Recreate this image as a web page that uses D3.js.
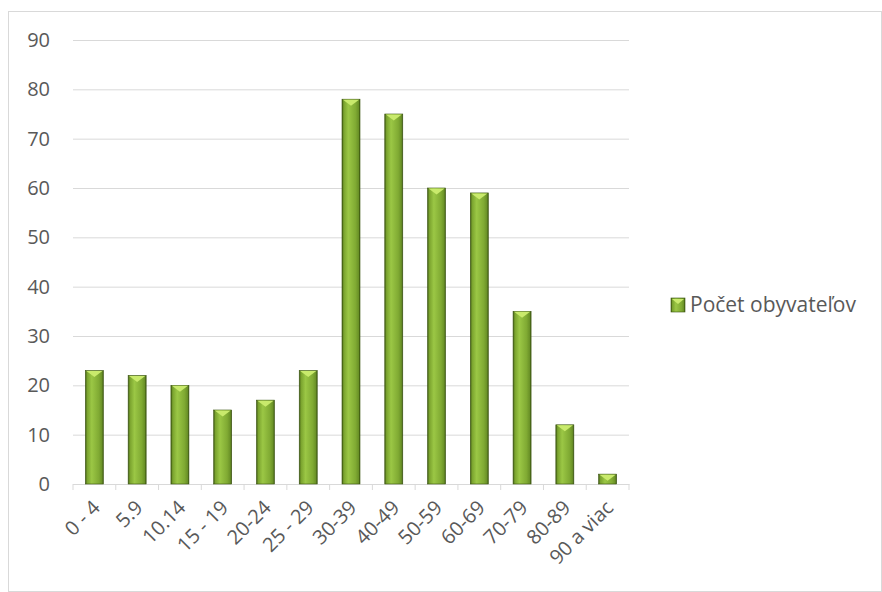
<!DOCTYPE html>
<html>
<head>
<meta charset="utf-8">
<style>
    body { margin: 0; background: #fff; }
    svg { font-family: 'Open Sans', 'Noto Sans', sans-serif; }
    .y .tick line { stroke: #d9d9d9; }
    .y .domain { display: none; }
    .x .domain, .x .tick line { stroke: #d9d9d9; }
    .legend-text { font-size: 21px; fill: #595959; }
</style>
</head>
<body>
<svg width="882" height="592"></svg>
<script src="https://d3js.org/d3.v7.min.js"></script>
<script>
    let categories = ["0 - 4", "5.9", "10.14", "15 - 19", "20-24", "25 - 29", "30-39", "40-49", "50-59", "60-69", "70-79", "80-89", "90 a viac"]
    let values = [23, 22, 20, 15, 17, 23, 78, 75, 60, 59, 35, 12, 2]
    let yTicks = [0, 10, 20, 30, 40, 50, 60, 70, 80, 90]
    let seriesName = "Počet obyvateľov"

    let svg = d3.select("svg")
    let margin = { top: 40, left: 73, right: 253, bottom: 108 }
    let width = 882, height = 592
    let font = "'Open Sans', 'Noto Sans', sans-serif"

    // outer chart frame
    svg.append("rect")
        .attr("x", 8.5).attr("y", 11.5)
        .attr("width", 873).attr("height", 580)
        .attr("fill", "none").attr("stroke", "#d9d9d9")

    let defs = svg.append("defs")
    let grad = defs.append("linearGradient").attr("id", "barGrad")
        .attr("x1", "0%").attr("x2", "100%").attr("y1", "0%").attr("y2", "0%")
    grad.append("stop").attr("offset", "0%").attr("stop-color", "#3f5a12")
    grad.append("stop").attr("offset", "10%").attr("stop-color", "#7aa32e")
    grad.append("stop").attr("offset", "35%").attr("stop-color", "#9bc745")
    grad.append("stop").attr("offset", "75%").attr("stop-color", "#80aa33")
    grad.append("stop").attr("offset", "92%").attr("stop-color", "#6a9127")
    grad.append("stop").attr("offset", "100%").attr("stop-color", "#3a5410")

    let x = d3.scaleBand()
        .domain(categories)
        .range([margin.left, width - margin.right])

    let y = d3.scaleLinear()
        .domain([0, 90])
        .range([height - margin.bottom, margin.top])

    let yAxis = svg.append("g")
        .attr("class", "y axis")
        .attr("transform", `translate(${margin.left},0)`)
        .call(d3.axisLeft(y)
            .tickValues(yTicks)
            .tickSize(-(width - margin.right - margin.left))
            .tickPadding(23))
        .attr("font-size", 20)
        .attr("font-family", font)
    yAxis.selectAll(".tick text").attr("fill", "#595959")

    let xAxis = svg.append("g")
        .attr("class", "x axis")
        .attr("transform", `translate(0,${height - margin.bottom})`)
        .call(d3.axisBottom(x).tickSize(0).tickFormat(d => d))
        .attr("font-size", 20)
        .attr("font-family", font)

    // band boundary tick marks
    xAxis.selectAll(".bound")
        .data(d3.range(categories.length + 1))
        .join("line")
        .attr("class", "bound")
        .attr("x1", i => margin.left + i * x.step())
        .attr("x2", i => margin.left + i * x.step())
        .attr("y1", 0).attr("y2", 6)
        .attr("stroke", "#d9d9d9")

    xAxis.selectAll(".tick text")
        .attr("fill", "#595959")
        .attr("text-anchor", "end")
        .attr("y", 0)
        .attr("dy", "0.35em")
        .attr("transform", "translate(2,20) rotate(-45)")

    let barW = 18
    let bars = svg.append("g").attr("class", "bars")
        .selectAll("g")
        .data(values)
        .join("g")

    bars.append("rect")
        .attr("x", (d, i) => x(categories[i]) + x.bandwidth() / 2 - barW / 2)
        .attr("y", d => y(d))
        .attr("width", barW)
        .attr("height", d => y(0) - y(d))
        .attr("fill", "url(#barGrad)")
        .attr("stroke", "#3a5410")
        .attr("stroke-width", 0.6)

    // bevel on top of each bar
    bars.append("path")
        .attr("d", (d, i) => {
            let x0 = x(categories[i]) + x.bandwidth() / 2 - barW / 2 + 1
            let y0 = y(d) + 0.5
            let h = Math.min(6, (y(0) - y(d)) - 1)
            return `M${x0},${y0} L${x0 + barW - 2},${y0} L${x0 + (barW - 2) / 2},${y0 + h} Z`
        })
        .attr("fill", "#c9ea6c")

    // legend
    let legend = svg.append("g").attr("transform", "translate(671,298)")
    legend.append("rect")
        .attr("width", 14).attr("height", 14)
        .attr("fill", "url(#barGrad)")
        .attr("stroke", "#3a5410").attr("stroke-width", 0.6)
    legend.append("path")
        .attr("d", "M1,1 L13,1 L7,6 Z")
        .attr("fill", "#c9ea6c")
    legend.append("text")
        .attr("class", "legend-text")
        .attr("x", 19).attr("y", 14)
        .text(seriesName)
</script>
</body>
</html>
